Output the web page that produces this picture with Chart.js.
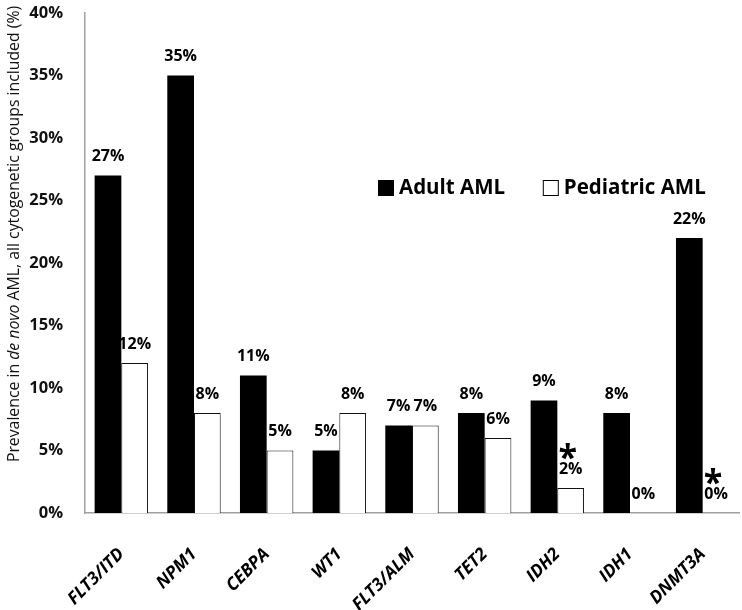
<!DOCTYPE html>
<html>
<head>
<meta charset="utf-8">
<script src="https://cdn.jsdelivr.net/npm/chart.js@4.4.1/dist/chart.umd.min.js"></script>
<style>
  html, body { margin: 0; padding: 0; background: #fff; }
  #wrap { width: 742px; height: 610px; position: relative; }
</style>
</head>
<body>
<div id="wrap"><canvas id="c"></canvas></div>
<script>
// ---- data ----
const categories = ['FLT3/ITD', 'NPM1', 'CEBPA', 'WT1', 'FLT3/ALM', 'TET2', 'IDH2', 'IDH1', 'DNMT3A'];
const adultAML = [27, 35, 11, 5, 7, 8, 9, 8, 22];
const pediatricAML = [12, 8, 5, 8, 7, 6, 2, 0, 0];
const pediatricMarkers = ['', '', '', '', '', '', '*', '', '*'];
const seriesNames = ['Adult AML', 'Pediatric AML'];
const yTicks = [0, 5, 10, 15, 20, 25, 30, 35, 40];
const yTitleParts = [
  { text: 'Prevalence in ', italic: false },
  { text: 'de novo', italic: true },
  { text: ' AML, all cytogenetic groups included (%)', italic: false }
];

const FONT = '"Open Sans", Lato, "DejaVu Sans", sans-serif';

const valueLabels = {
  id: 'valueLabels',
  afterDatasetsDraw(chart) {
    const ctx = chart.ctx;
    ctx.save();
    ctx.fillStyle = '#000';
    ctx.textAlign = 'center';
    ctx.textBaseline = 'middle';
    chart.data.datasets.forEach((ds, di) => {
      const meta = chart.getDatasetMeta(di);
      meta.data.forEach((bar, i) => {
        const y = bar.y - 19;
        ctx.font = 'bold 16px ' + FONT;
        ctx.fillText(ds.data[i] + '%', bar.x, y);
        if (di === 1 && pediatricMarkers[i]) {
          ctx.font = 'bold 34px ' + FONT;
          ctx.fillText(pediatricMarkers[i], bar.x - 3, y - 10);
        }
      });
    });
    ctx.restore();
  }
};

const customLegend = {
  id: 'customLegend',
  afterDraw(chart) {
    const ctx = chart.ctx;
    const a = chart.chartArea;
    const w = a.right - a.left, h = a.bottom - a.top;
    const baseY = a.top + h * 0.35;
    const starts = [a.left + w * 0.448, a.left + w * 0.70];
    ctx.save();
    ctx.font = 'bold 20.5px ' + FONT;
    ctx.textBaseline = 'middle';
    ctx.textAlign = 'left';
    chart.data.datasets.forEach((ds, di) => {
      const x = starts[di];
      ctx.fillStyle = ds.backgroundColor;
      ctx.fillRect(x, baseY - 8, 16, 16);
      ctx.strokeStyle = '#000';
      ctx.lineWidth = 1;
      ctx.strokeRect(x + 0.5, baseY - 7.5, 15, 15);
      ctx.fillStyle = '#000';
      ctx.fillText(ds.label, x + 21, baseY);
    });
    ctx.restore();
  }
};

const yTitle = {
  id: 'yTitle',
  afterDraw(chart) {
    const ctx = chart.ctx;
    const size = 15.8;
    const fonts = yTitleParts.map(p => (p.italic ? 'italic ' : '') + size + 'px ' + FONT);
    let total = 0;
    const widths = yTitleParts.map((p, i) => { ctx.font = fonts[i]; const m = ctx.measureText(p.text).width; total += m; return m; });
    const a = chart.chartArea;
    const cy = a.top + (a.bottom - a.top) * 0.442;
    ctx.save();
    ctx.translate(14, cy);
    ctx.rotate(-Math.PI / 2);
    ctx.fillStyle = '#111';
    ctx.textBaseline = 'middle';
    ctx.textAlign = 'left';
    let x = -total / 2;
    yTitleParts.forEach((p, i) => { ctx.font = fonts[i]; ctx.fillText(p.text, x, 0); x += widths[i]; });
    ctx.restore();
  }
};

new Chart(document.getElementById('c'), {
  type: 'bar',
  data: {
    labels: categories,
    datasets: [
      { label: seriesNames[0], data: adultAML, backgroundColor: '#000000', borderColor: '#000000', borderWidth: 0 },
      { label: seriesNames[1], data: pediatricAML, backgroundColor: '#ffffff', borderColor: '#111111', borderWidth: 1 }
    ]
  },
  options: {
    responsive: true,
    maintainAspectRatio: false,
    animation: false,
    layout: { padding: { top: 13, right: 3, left: 0, bottom: 0 } },
    datasets: { bar: { categoryPercentage: 0.735, barPercentage: 1.0 } },
    plugins: { legend: { display: false }, tooltip: { enabled: false } },
    scales: {
      x: {
        grid: { display: false },
        border: { display: true, color: '#a0a0a0', width: 1.5 },
        ticks: {
          color: '#000',
          font: { family: FONT, size: 17.5, weight: 'bold', style: 'italic' },
          maxRotation: 45, minRotation: 45, padding: 23, autoSkip: false
        },
        afterFit(s) { s.height = 97; s.paddingLeft = 0; s.paddingRight = 0; }
      },
      y: {
        min: 0, max: 40,
        grid: { display: false },
        border: { display: true, color: '#a0a0a0', width: 1.5 },
        afterBuildTicks(s) { s.ticks = yTicks.map(v => ({ value: v })); },
        ticks: {
          color: '#111',
          font: { family: FONT, size: 16.5, weight: 'bold' },
          padding: 14,
          callback: v => v + '%'
        },
        afterFit(s) { s.width = 85; s.paddingTop = 0; s.paddingBottom = 0; }
      }
    }
  },
  plugins: [valueLabels, customLegend, yTitle]
});
</script>
</body>
</html>
